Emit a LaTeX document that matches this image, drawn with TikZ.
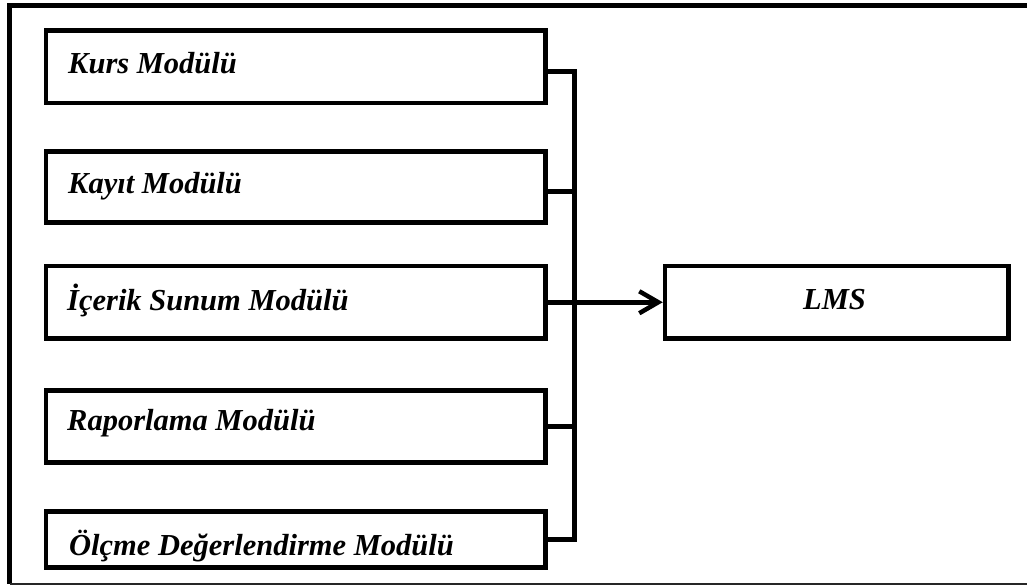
\documentclass[tikz,border=0pt]{standalone}
\usepackage{fontspec}
\setmainfont{Liberation Serif}
\usetikzlibrary{arrows.meta}

\tikzset{
  modbox/.style={draw=black, line width=4.5pt, rectangle, inner sep=0pt,
    minimum width=499.5pt},
  modtext/.style={anchor=base west, inner sep=0pt,
    font=\fontsize{30.5}{36}\selectfont\bfseries\itshape},
  lmstext/.style={anchor=base, inner sep=0pt,
    font=\fontsize{30.5}{36}\selectfont\bfseries\itshape},
  bus/.style={line width=4.5pt, line join=miter},
  frameline/.style={line width=5pt},
}

\begin{document}
\begin{tikzpicture}[x=1pt, y=-1pt]
  \useasboundingbox (0,0) rectangle (1027,585);
  \clip (0,0) rectangle (1027,585);

  % outer frame: heavy top and left rules, light bottom rule
  \draw[frameline] (1040,5.5) -- (9.5,5.5) -- (9.5,584);
  \draw[line width=2pt, black!85] (9.5,583.5) -- (1040,583.5);

  % module boxes
  \node[modbox, minimum height=72.5pt] (kurs)   at (295.75,66.75) {};
  \node[modbox, minimum height=71pt]   (kayit)  at (295.75,187) {};
  \node[modbox, minimum height=72.5pt] (icerik) at (295.75,302.25) {};
  \node[modbox, minimum height=72pt]   (rapor)  at (295.75,426.5) {};
  \node[modbox, minimum height=56pt]   (olcme)  at (295.75,539.5) {};

  % module titles
  \node[modtext] (kursT)   at (68,74)  {Kurs Modülü};
  \node[modtext] (kayitT)  at (68,194) {Kayıt Modülü};
  \node[modtext] (icerikT) at (67,310) {İçerik Sunum Modülü};
  \node[modtext] (raporT)  at (67,430) {Raporlama Modülü};
  \node[modtext] (olcmeT)  at (69,555) {Ölçme Değerlendirme Modülü};

  % target box
  \node[modbox, minimum width=343.5pt, minimum height=72.5pt] (lms) at (836.75,302.25) {};
  \node[lmstext] (lmsT) at (834.5,309) {LMS};

  % collecting bus
  \coordinate (busTop) at (574.5,71.5);
  \coordinate (busKayit) at (574.5,191.5);
  \coordinate (busRapor) at (574.5,426.5);
  \coordinate (busBot) at (574.5,539.5);

  \draw[bus] (kurs.east |- busTop) -- (busTop) -- (busBot) -- (olcme.east |- busBot);
  \draw[bus] (kayit.east |- busKayit) -- (busKayit);
  \draw[bus] (rapor.east |- busRapor) -- (busRapor);

  % output arrow into LMS
  \draw[bus, -{Straight Barb[length=19pt, width=22pt, line width=4.5pt]}]
    (icerik.east) -- (lms.west);
\end{tikzpicture}
\end{document}
